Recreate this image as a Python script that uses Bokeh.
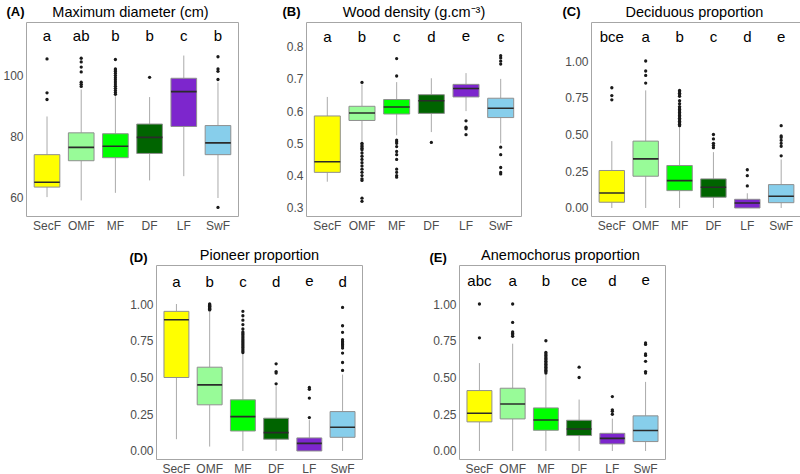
from bokeh.plotting import figure
from bokeh.layouts import column, row, Spacer
from bokeh.models import Range1d, FixedTicker, NumeralTickFormatter
from bokeh.core.properties import value
from bokeh.embed import file_html
from bokeh.resources import INLINE

categories = ["SecF", "OMF", "MF", "DF", "LF", "SwF"]
box_colors = ["#FFFF00", "#98FB98", "#00FF00", "#006400", "#7D26CD", "#87CEEB"]

# (A) Maximum diameter (cm)
diam_q1 = [63.3, 72.0, 73.0, 74.4, 83.3, 74.0]
diam_med = [64.9, 76.4, 76.8, 79.7, 94.8, 77.9]
diam_q3 = [74.0, 81.2, 80.9, 84.1, 99.2, 83.6]
diam_lo = [60.0, 58.9, 61.4, 65.5, 66.9, 59.7]
diam_hi = [86.6, 95.5, 93.3, 93.0, 106.7, 97.8]
diam_out = [[105.6, 94.4, 92.2],
            [105.8, 104.6, 102.9, 101.3, 97.9, 97.2, 96.5],
            [105.4, 102.3, 101.9, 101.4, 100.8, 100.1, 99.4, 98.7, 98.0, 97.3, 96.6, 95.9, 95.2, 94.5, 93.9],
            [99.5],
            [],
            [106.3, 102.3, 101.5, 98.8, 56.6]]
diam_letters = ["a", "ab", "b", "b", "c", "b"]
diam_ticks = [60, 80, 100]

# (B) Wood density
wd_q1 = [0.410, 0.571, 0.591, 0.593, 0.644, 0.580]
wd_med = [0.443, 0.594, 0.613, 0.632, 0.670, 0.609]
wd_q3 = [0.585, 0.615, 0.636, 0.651, 0.683, 0.640]
wd_lo = [0.381, 0.505, 0.525, 0.535, 0.600, 0.500]
wd_hi = [0.644, 0.683, 0.690, 0.702, 0.718, 0.700]
wd_out = [[],
          [0.689, 0.500, 0.495, 0.490, 0.485, 0.480, 0.470, 0.460, 0.450, 0.440, 0.430, 0.420, 0.410, 0.400, 0.390, 0.385, 0.330, 0.320],
          [0.763, 0.709, 0.510, 0.505, 0.500, 0.490, 0.475, 0.465, 0.450, 0.420, 0.410, 0.400, 0.395],
          [0.503],
          [0.570, 0.550, 0.545, 0.527],
          [0.772, 0.765, 0.755, 0.746, 0.488, 0.465, 0.425, 0.410, 0.405]]
wd_letters = ["a", "b", "c", "d", "e", "c"]
wd_ticks = [0.3, 0.4, 0.5, 0.6, 0.7, 0.8]

# (C) Deciduous proportion
dec_q1 = [0.039, 0.216, 0.118, 0.073, 0.0, 0.036]
dec_med = [0.102, 0.334, 0.186, 0.141, 0.034, 0.080]
dec_q3 = [0.255, 0.455, 0.289, 0.198, 0.059, 0.159]
dec_lo = [0.0, 0.0, 0.0, 0.0, 0.0, 0.0]
dec_hi = [0.455, 0.80, 0.55, 0.38, 0.10, 0.33]
dec_out = [[0.818, 0.765, 0.736],
           [1.0, 0.932, 0.902, 0.85],
           [0.80, 0.79, 0.78, 0.77, 0.76, 0.73, 0.71, 0.69, 0.68, 0.67, 0.66, 0.65, 0.64, 0.63, 0.62, 0.61, 0.60, 0.59, 0.58, 0.57, 0.56],
           [0.50, 0.47, 0.44, 0.425, 0.41],
           [0.26, 0.22, 0.15],
           [0.56, 0.49, 0.48, 0.46, 0.44, 0.42, 0.355]]
dec_letters = ["bce", "a", "b", "c", "d", "e"]

# (D) Pioneer proportion
pio_q1 = [0.50, 0.314, 0.136, 0.080, 0.0, 0.093]
pio_med = [0.893, 0.45, 0.234, 0.125, 0.052, 0.161]
pio_q3 = [0.95, 0.570, 0.348, 0.223, 0.089, 0.268]
pio_lo = [0.08, 0.03, 0.0, 0.0, 0.0, 0.0]
pio_hi = [1.0, 0.95, 0.66, 0.44, 0.21, 0.52]
pio_out = [[],
           [1.0, 0.995, 0.99, 0.985, 0.98, 0.975, 0.97, 0.965, 0.96],
           [0.95, 0.92, 0.89, 0.86, 0.83, 0.81, 0.80, 0.79, 0.78, 0.77, 0.76, 0.75, 0.74, 0.73, 0.72, 0.71, 0.70, 0.69, 0.68, 0.67],
           [0.593, 0.54, 0.53, 0.457],
           [0.432, 0.42, 0.36, 0.227],
           [0.977, 0.852, 0.807, 0.757, 0.745, 0.735, 0.725, 0.715, 0.70, 0.666, 0.602, 0.548]]
pio_letters = ["a", "b", "c", "d", "e", "d"]

# (E) Anemochorus proportion
ane_q1 = [0.198, 0.218, 0.141, 0.105, 0.048, 0.064]
ane_med = [0.257, 0.320, 0.211, 0.150, 0.086, 0.139]
ane_q3 = [0.411, 0.427, 0.293, 0.209, 0.120, 0.239]
ane_lo = [0.0, 0.0, 0.0, 0.0, 0.0, 0.0]
ane_hi = [0.598, 0.73, 0.52, 0.35, 0.22, 0.47]
ane_out = [[1.0, 0.77],
           [1.0, 0.875, 0.81, 0.80, 0.79, 0.78],
           [0.75, 0.67, 0.66, 0.65, 0.64, 0.63, 0.62, 0.61, 0.60, 0.59, 0.58, 0.57, 0.56, 0.55, 0.54, 0.53],
           [0.57, 0.50],
           [0.37, 0.28, 0.27, 0.25],
           [0.735, 0.725, 0.66, 0.65, 0.61, 0.54, 0.53]]
ane_letters = ["abc", "a", "b", "ce", "d", "e"]

prop_ticks = [0.0, 0.25, 0.5, 0.75, 1.0]

panel_tags = ["(A)", "(B)", "(C)", "(D)", "(E)"]
panel_titles = ["Maximum diameter (cm)", "Wood density  (g.cm\u207b\u00b3)",
                "Deciduous proportion", "Pioneer proportion", "Anemochorus proportion"]

FONT = "Liberation Sans"
TICK_COLOR = "#4d4d4d"
W = 800

# layout: (left border, frame width, right border)
top_cols = [(24, 212, 32), (36, 215, 11), (59, 210, 1)]
bot_cols = [(36, 206, 48), (49, 206, 15)]
bot_pad = 120
FRAME_H = 194
HEAD1_H = 22
HEAD2_H = 30
tag_dx = [-18, -22, -27, -27, -30]
title_dx = [0, 4, 0, 0, -2]


def make_panel(q1, med, q3, lo, hi, outliers, letters, yr, ticks, fmt,
               letter_frac, cols, bb):
    bl, fw, br = cols
    p = figure(frame_width=fw, frame_height=FRAME_H, output_backend="svg",
               toolbar_location=None,
               x_range=Range1d(0.4, 6.6), y_range=Range1d(yr[0], yr[1]),
               min_border_left=bl, min_border_right=br, min_border_top=0,
               min_border_bottom=bb, background_fill_color="white",
               border_fill_color="white")
    xs = list(range(1, len(categories) + 1))
    bw = 0.75
    p.segment(x0=xs, y0=lo, x1=xs, y1=q1, line_color="#aaaaaa", line_width=1)
    p.segment(x0=xs, y0=q3, x1=xs, y1=hi, line_color="#aaaaaa", line_width=1)
    p.vbar(x=xs, width=bw, bottom=q1, top=q3, fill_color=box_colors,
           line_color="#8f8f8f", line_width=1)
    p.segment(x0=[x - bw / 2 for x in xs], y0=med, x1=[x + bw / 2 for x in xs], y1=med,
              line_color="#2b2b2b", line_width=1.6)
    ox = [i + 1 for i, o in enumerate(outliers) for _ in o]
    oy = [v for o in outliers for v in o]
    p.scatter(x=ox, y=oy, size=3.3, color="#1a1a1a", line_color=None)
    ly = yr[0] + letter_frac * (yr[1] - yr[0])
    p.text(x=xs, y=[ly] * len(xs), text=letters, text_align="center",
           text_baseline="alphabetic", text_font=value(FONT),
           text_font_size=value("15px"), text_color="black")

    p.grid.visible = False
    p.outline_line_color = "#a6a6a6"
    p.outline_line_width = 1
    for ax in (p.xaxis, p.yaxis):
        ax.axis_line_color = None
        ax.major_tick_line_color = None
        ax.minor_tick_line_color = None
        ax.major_tick_out = 0
        ax.major_tick_in = 0
        ax.minor_tick_out = 0
        ax.minor_tick_in = 0
        ax.major_label_text_font = FONT
        ax.major_label_text_font_size = "12px"
        ax.major_label_text_color = TICK_COLOR
    p.yaxis.major_label_standoff = 3
    p.xaxis.major_label_standoff = 2
    p.xaxis.ticker = FixedTicker(ticks=xs)
    p.xaxis.major_label_overrides = {x: c for x, c in zip(xs, categories)}
    p.yaxis.ticker = FixedTicker(ticks=ticks)
    p.yaxis.formatter = NumeralTickFormatter(format=fmt)
    return p


def make_header(height, frames, tags, titles, dxs, tdxs, tag_y, title_y):
    h = figure(frame_width=W, frame_height=height, output_backend="svg",
               toolbar_location=None, x_range=Range1d(0, W), y_range=Range1d(0, height),
               x_axis_type=None, y_axis_type=None, min_border=0,
               background_fill_color="white", border_fill_color="white")
    h.grid.visible = False
    h.outline_line_color = None
    tx = [f[0] + f[1] / 2 + d for f, d in zip(frames, tdxs)]
    gx = [f[0] + d for f, d in zip(frames, dxs)]
    h.text(x=tx, y=[title_y] * len(tx), text=titles, text_align="center",
           text_baseline="middle", text_font=value(FONT),
           text_font_size=value("14.5px"), text_color="black")
    h.text(x=gx, y=[tag_y] * len(gx), text=tags, text_align="left",
           text_baseline="middle", text_font=value(FONT),
           text_font_size=value("13px"), text_font_style="bold", text_color="black")
    return h


pA = make_panel(diam_q1, diam_med, diam_q3, diam_lo, diam_hi, diam_out, diam_letters,
                (53.6, 117.6), diam_ticks, "0", 0.933, top_cols[0], 18)
pB = make_panel(wd_q1, wd_med, wd_q3, wd_lo, wd_hi, wd_out, wd_letters,
                (0.273, 0.875), wd_ticks, "0.0", 0.929, top_cols[1], 18)
pC = make_panel(dec_q1, dec_med, dec_q3, dec_lo, dec_hi, dec_out, dec_letters,
                (-0.058, 1.262), prop_ticks, "0.00", 0.927, top_cols[2], 18)
pD = make_panel(pio_q1, pio_med, pio_q3, pio_lo, pio_hi, pio_out, pio_letters,
                (-0.058, 1.262), prop_ticks, "0.00", 0.920, bot_cols[0], 16)
pE = make_panel(ane_q1, ane_med, ane_q3, ane_lo, ane_hi, ane_out, ane_letters,
                (-0.058, 1.262), prop_ticks, "0.00", 0.924, bot_cols[1], 16)

# frame left positions (screen) derived from the layout
top_frames, x0 = [], 0
for bl, fw, br in top_cols:
    top_frames.append((x0 + bl, fw))
    x0 += bl + fw + br
bot_frames, x0 = [], bot_pad
for bl, fw, br in bot_cols:
    bot_frames.append((x0 + bl, fw))
    x0 += bl + fw + br

head1 = make_header(HEAD1_H, top_frames, panel_tags[:3], panel_titles[:3], tag_dx[:3],
                    title_dx[:3], HEAD1_H - 11, HEAD1_H - 11)
head2 = make_header(HEAD2_H, bot_frames, panel_tags[3:], panel_titles[3:], tag_dx[3:],
                    title_dx[3:], 8.5, HEAD2_H - 19)

layout = column(head1,
                row(pA, pB, pC),
                head2,
                row(Spacer(width=bot_pad, height=10), pD, pE))

open("out.html", "w").write(file_html(layout, INLINE))
